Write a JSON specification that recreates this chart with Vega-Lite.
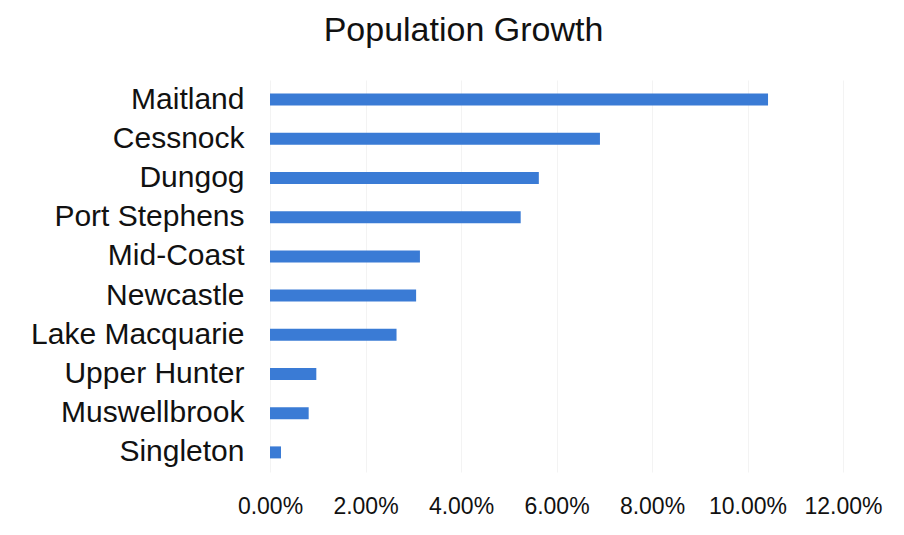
{
  "$schema": "https://vega.github.io/schema/vega-lite/v6.json",
  "autosize": {"type": "none"},
  "padding": {"left": 270, "top": 80, "right": 61, "bottom": 63},
  "width": 573,
  "height": 392,
  "background": "white",
  "title": {
    "text": "Population Growth",
    "font": "Liberation Sans",
    "fontSize": 34,
    "fontWeight": "normal",
    "color": "#111111",
    "anchor": "middle",
    "frame": "group",
    "dx": -93,
    "offset": 32
  },
  "data": {
    "values": [
      {"lga": "Maitland", "growth": 0.1043},
      {"lga": "Cessnock", "growth": 0.0691},
      {"lga": "Dungog", "growth": 0.0563},
      {"lga": "Port Stephens", "growth": 0.0525},
      {"lga": "Mid-Coast", "growth": 0.0314},
      {"lga": "Newcastle", "growth": 0.0306},
      {"lga": "Lake Macquarie", "growth": 0.0265},
      {"lga": "Upper Hunter", "growth": 0.0097},
      {"lga": "Muswellbrook", "growth": 0.0081},
      {"lga": "Singleton", "growth": 0.0023}
    ]
  },
  "mark": {"type": "bar", "color": "#3a7bd5", "size": 12},
  "encoding": {
    "y": {
      "field": "lga",
      "type": "nominal",
      "sort": null,
      "title": null,
      "axis": {
        "domain": false,
        "ticks": false,
        "grid": false,
        "labelFont": "Liberation Sans",
        "labelFontSize": 30,
        "labelColor": "#111111",
        "labelPadding": 26,
        "labelLimit": 400
      }
    },
    "x": {
      "field": "growth",
      "type": "quantitative",
      "title": null,
      "scale": {"domain": [0, 0.12], "nice": false},
      "axis": {
        "values": [0, 0.02, 0.04, 0.06, 0.08, 0.1, 0.12],
        "format": ".2%",
        "domain": false,
        "ticks": false,
        "grid": true,
        "gridColor": "#f3f3f3",
        "gridWidth": 1,
        "labelFont": "Liberation Sans",
        "labelFontSize": 23,
        "labelColor": "#111111",
        "labelPadding": 23,
        "labelOverlap": false,
        "labelFlush": false
      }
    }
  },
  "config": {"view": {"stroke": null}}
}
